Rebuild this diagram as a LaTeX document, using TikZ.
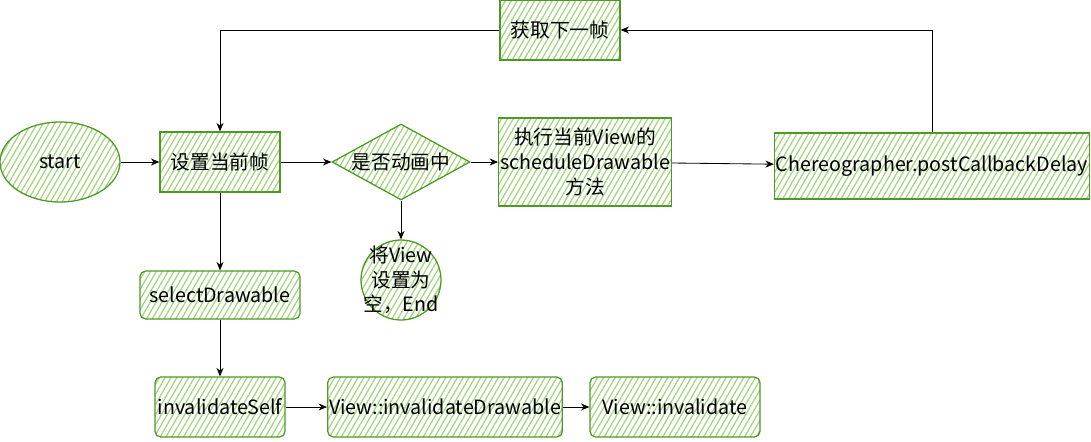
\documentclass[tikz,border=0pt]{standalone}
\usepackage{fontspec}
\setmainfont{Noto Sans CJK SC}
\usetikzlibrary{shapes.geometric,patterns.meta,arrows.meta,positioning}

\definecolor{edgegreen}{HTML}{4D9A22}
\definecolor{hatchgreen}{HTML}{A3D47E}

\begin{document}
\begin{tikzpicture}[
                node distance=4cm,
                auto,
                font=\fontsize{14pt}{17.5pt}\selectfont,
                hatched/.style={
                    draw=edgegreen,
                    line width=0.9pt,
                    pattern={Lines[angle=60,distance=3.6pt,line width=0.9pt]},
                    pattern color=hatchgreen
                },
                block/.style={
                    hatched,
                    rectangle,
                    align=center,
                    inner sep=1pt,
                    minimum height=1.5cm
                },
                roundblock/.style={
                    block,
                    rounded corners=4pt
                },
                decision/.style={
                    hatched,
                    diamond,
                    aspect=1.8,
                    inner sep=-1pt,
                    minimum width=3.45cm,
                    minimum height=1.9cm
                },
                terminal/.style={
                    hatched,
                    ellipse,
                    minimum width=3cm,
                    minimum height=2cm
                },
                endcircle/.style={
                    hatched,
                    circle,
                    align=center,
                    inner sep=-7pt,
                    minimum size=2cm
                },
                line/.style={
                    draw,
                    line width=0.6pt,
                    -{Stealth[length=6pt,width=5pt]}
                }]

                \useasboundingbox (0,0) rectangle (27.275,-11.025);

                \node [terminal] (start) at (1.5,-4.05) {start};
                \node [block, right of=start, minimum width=3cm] (setframe) {设置当前帧};
                \node [decision, right of=setframe, node distance=4.525cm] (animating) {是否动画中};
                \node [block, right of=animating, node distance=4.6cm, minimum width=4.25cm, minimum height=2.2cm] (schedule) {执行当前View的\\scheduleDrawable\\方法};
                \node [block, right of=schedule, node distance=8.675cm, yshift=-0.1cm, minimum width=7.875cm, minimum height=1.65cm] (postcb) {Chereographer.postCallbackDelay};

                \node [block, above of=schedule, node distance=3.3cm, xshift=-0.625cm, minimum width=3cm] (nextframe) {获取下一帧};

                \node [endcircle, below of=animating, node distance=2.95cm] (clearview) {将View\\设置为\\空，End};

                \node [roundblock, below of=setframe, node distance=3.325cm, minimum width=4cm, minimum height=1.2cm] (selectdrawable) {selectDrawable};
                \node [roundblock, below of=selectdrawable, node distance=2.8cm, minimum width=3.25cm] (invalidateself) {invalidateSelf};
                \node [roundblock, right of=invalidateself, node distance=5.625cm, minimum width=5.75cm] (invalidatedrawable) {View::invalidateDrawable};
                \node [roundblock, right of=invalidatedrawable, node distance=5.75cm, minimum width=4.25cm] (viewinvalidate) {View::invalidate};

                \draw [line] (start) -- (setframe);
                \draw [line] (setframe) -- (animating);
                \draw [line] (animating) -- (schedule);
                \draw [line] (schedule) -- (postcb);

                \draw [line] (postcb) |- (nextframe);
                \draw [line] (nextframe) -| (setframe);

                \draw [line] (animating) -- (clearview);

                \draw [line] (setframe) -- (selectdrawable);
                \draw [line] (selectdrawable) -- (invalidateself);
                \draw [line] (invalidateself) -- (invalidatedrawable);
                \draw [line] (invalidatedrawable) -- (viewinvalidate);

            \end{tikzpicture}
\end{document}
